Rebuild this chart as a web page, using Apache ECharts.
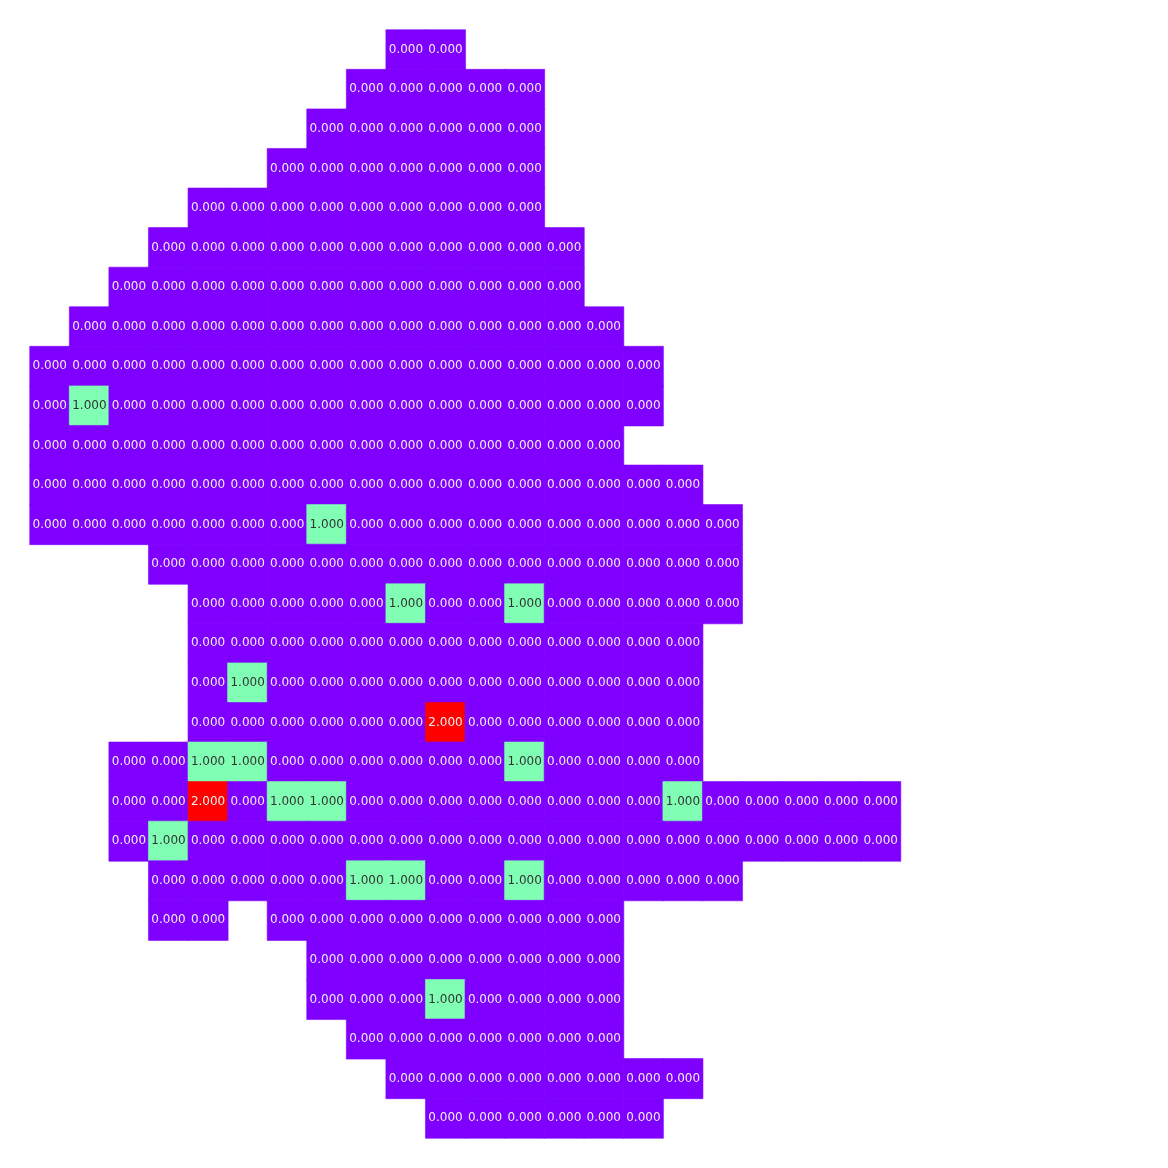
<!DOCTYPE html>
<html>
<head>
<meta charset="utf-8">
<script src="https://cdn.jsdelivr.net/npm/echarts@6/dist/echarts.min.js"></script>
<style>html,body{margin:0;padding:0;background:#fff;}#main{width:1168px;height:1168px;}</style>
</head>
<body>
<div id="main"></div>
<script>
var xCategories = [];
var yCategories = [];
for (var i = 0; i < 28; i++) { xCategories.push(String(i)); yCategories.push(String(i)); }

// first column index of each row (top row first)
var rowStarts = [9, 8, 7, 6, 4, 3, 2, 1, 0, 0, 0, 0, 0, 3, 4, 4, 4, 4, 2, 2, 2, 3, 3, 7, 7, 8, 9, 10];

// cell values of each row, from its first column (null = empty cell)
var rowValues = [
  [0, 0],
  [0, 0, 0, 0, 0],
  [0, 0, 0, 0, 0, 0],
  [0, 0, 0, 0, 0, 0, 0],
  [0, 0, 0, 0, 0, 0, 0, 0, 0],
  [0, 0, 0, 0, 0, 0, 0, 0, 0, 0, 0],
  [0, 0, 0, 0, 0, 0, 0, 0, 0, 0, 0, 0],
  [0, 0, 0, 0, 0, 0, 0, 0, 0, 0, 0, 0, 0, 0],
  [0, 0, 0, 0, 0, 0, 0, 0, 0, 0, 0, 0, 0, 0, 0, 0],
  [0, 1, 0, 0, 0, 0, 0, 0, 0, 0, 0, 0, 0, 0, 0, 0],
  [0, 0, 0, 0, 0, 0, 0, 0, 0, 0, 0, 0, 0, 0, 0],
  [0, 0, 0, 0, 0, 0, 0, 0, 0, 0, 0, 0, 0, 0, 0, 0, 0],
  [0, 0, 0, 0, 0, 0, 0, 1, 0, 0, 0, 0, 0, 0, 0, 0, 0, 0],
  [0, 0, 0, 0, 0, 0, 0, 0, 0, 0, 0, 0, 0, 0, 0],
  [0, 0, 0, 0, 0, 1, 0, 0, 1, 0, 0, 0, 0, 0],
  [0, 0, 0, 0, 0, 0, 0, 0, 0, 0, 0, 0, 0],
  [0, 1, 0, 0, 0, 0, 0, 0, 0, 0, 0, 0, 0],
  [0, 0, 0, 0, 0, 0, 2, 0, 0, 0, 0, 0, 0],
  [0, 0, 1, 1, 0, 0, 0, 0, 0, 0, 1, 0, 0, 0, 0],
  [0, 0, 2, 0, 1, 1, 0, 0, 0, 0, 0, 0, 0, 0, 1, 0, 0, 0, 0, 0],
  [0, 1, 0, 0, 0, 0, 0, 0, 0, 0, 0, 0, 0, 0, 0, 0, 0, 0, 0, 0],
  [0, 0, 0, 0, 0, 1, 1, 0, 0, 1, 0, 0, 0, 0, 0],
  [0, 0, null, 0, 0, 0, 0, 0, 0, 0, 0, 0],
  [0, 0, 0, 0, 0, 0, 0, 0],
  [0, 0, 0, 1, 0, 0, 0, 0],
  [0, 0, 0, 0, 0, 0, 0],
  [0, 0, 0, 0, 0, 0, 0, 0],
  [0, 0, 0, 0, 0, 0]
];

// colours at values 0, 1, 2
var colorStops = ['#8000ff', '#80ffb4', '#ff0000'];

var data = [];
rowValues.forEach(function (vals, r) {
  vals.forEach(function (v, k) {
    if (v === null) return;
    data.push({
      value: [rowStarts[r] + k, r, v],
      itemStyle: { borderColor: colorStops[v], borderWidth: 0.6 }
    });
  });
});

var chart = echarts.init(document.getElementById('main'));
chart.setOption({
  animation: false,
  grid: { left: 30, right: 30, top: 30, bottom: 30 },
  xAxis: { type: 'category', data: xCategories, show: false },
  yAxis: { type: 'category', data: yCategories, show: false, inverse: true },
  visualMap: {
    show: false, type: 'continuous', min: 0, max: 2, dimension: 2,
    inRange: { color: colorStops }
  },
  series: [{
    type: 'heatmap',
    data: data,
    label: {
      show: true,
      fontSize: 12,
      fontFamily: 'DejaVu Sans',
      formatter: function (p) { return p.value[2].toFixed(3); }
    }
  }]
});
</script>
</body>
</html>
